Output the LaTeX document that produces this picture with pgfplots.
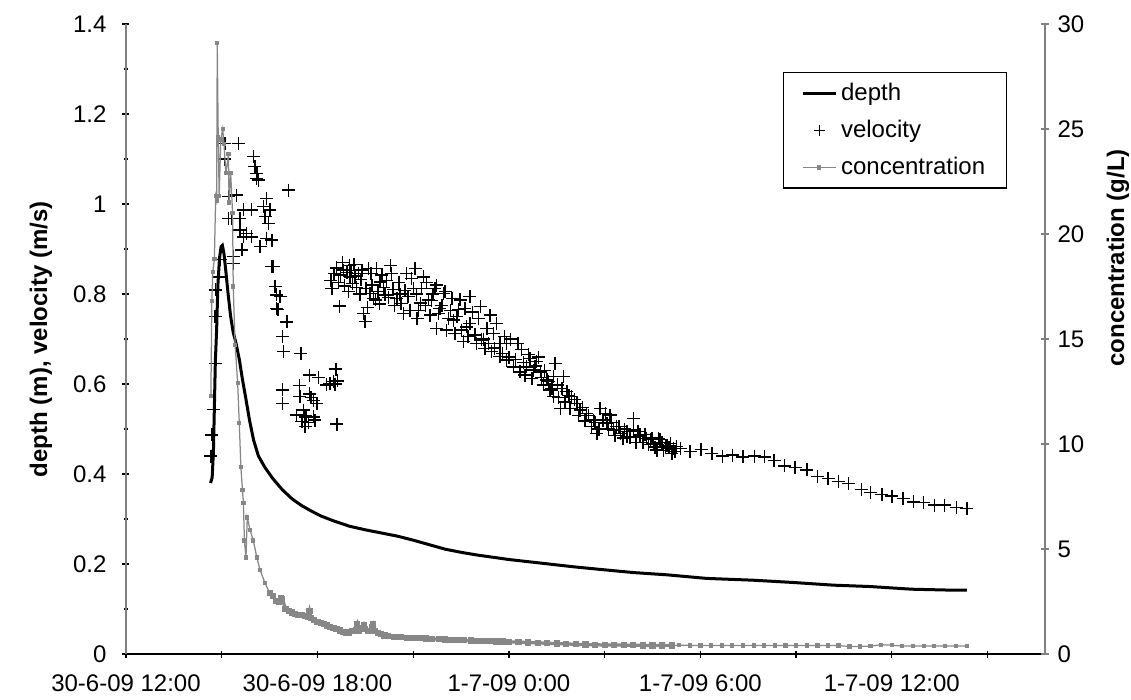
\documentclass[border=0pt]{standalone}
\usepackage{fontspec}
\setmainfont{Liberation Sans}
\usepackage{pgfplots}
\pgfplotsset{compat=1.18}
\definecolor{concgray}{RGB}{135,135,135}
\definecolor{axgray}{RGB}{128,128,128}

\pgfplotsset{
  hydro/.style={
    scale only axis, width=367.6pt, height=252pt,
    xmin=0, xmax=28.8,
    tick align=outside,
    /pgf/number format/assume math mode=true,
    tick label style={font=\fontsize{9.6}{11.5}\selectfont, black},
  },
}

\begin{document}
\fontsize{9.6}{11.5}\selectfont
\begin{tikzpicture}
% left axis: depth and velocity
\begin{axis}[hydro, name=main,
  ymin=0, ymax=1.4,
  axis x line=bottom, axis y line=left,
  axis line style={-},
  x axis line style={-, black, line width=0.5pt},
  y axis line style={-, axgray, line width=0.5pt},
  xtick={0,3,...,27},
  xticklabels={{30-6-09 12:00},{},{30-6-09 18:00},{},{1-7-09 0:00},{},{1-7-09 6:00},{},{1-7-09 12:00},{}},
  xticklabel style={yshift=-3.3pt},
  yticklabel style={xshift=-3pt},
  ytick={0,0.2,...,1.4},
  minor y tick num=1,
  major tick length=2.8pt, minor tick length=1.6pt,
  tick style={black, line width=0.5pt},
  ylabel={depth (m), velocity (m/s)},
  ylabel style={at={(axis description cs:-0.0925,0.5)}, anchor=center, font=\bfseries\fontsize{9.6}{11.5}\selectfont},
]
\addplot[black, line width=1.2pt] table {
x y
2.65 0.380
2.70 0.392
2.74 0.45
2.77 0.55
2.80 0.65
2.84 0.72
2.88 0.82
2.93 0.88
2.98 0.905
3.02 0.908
3.07 0.89
3.13 0.85
3.20 0.80
3.28 0.75
3.36 0.715
3.45 0.69
3.55 0.655
3.65 0.61
3.75 0.57
3.87 0.52
4.00 0.475
4.15 0.44
4.35 0.415
4.60 0.39
4.90 0.365
5.20 0.345
5.50 0.330
5.80 0.318
6.10 0.307
6.50 0.296
7.00 0.284
7.50 0.276
8.00 0.269
8.50 0.262
9.00 0.253
9.50 0.243
10.00 0.233
10.50 0.226
11.00 0.220
11.50 0.215
12.00 0.210
12.50 0.206
13.00 0.202
13.50 0.198
14.00 0.194
14.86 0.188
15.90 0.181
16.95 0.176
18.20 0.168
19.66 0.164
20.90 0.159
22.17 0.153
23.30 0.150
24.63 0.144
25.83 0.142
26.35 0.142
};
\addplot[only marks, mark=+, mark size=2.6pt, black, line width=0.55pt] table {
x y
2.66 0.440
2.69 0.487
2.74 0.544
2.79 0.646
2.79 0.750
2.80 0.809
2.89 0.838
2.95 0.876
3.10 1.135
3.08 1.100
3.21 1.016
3.21 0.968
3.31 0.968
3.36 0.883
3.36 0.868
3.47 1.020
3.52 1.135
3.57 0.968
3.57 0.942
3.63 0.898
3.68 0.987
3.68 0.927
3.78 0.935
3.94 0.987
3.94 0.927
3.99 1.105
4.04 1.083
4.08 1.057
4.10 1.068
4.15 1.053
4.20 0.905
4.30 0.994
4.36 0.972
4.41 1.012
4.41 0.924
4.46 0.957
4.51 0.987
4.57 0.920
4.57 0.861
4.61 0.861
4.67 0.816
4.72 0.798
4.72 0.768
4.76 0.766
4.83 0.794
4.90 0.587
4.90 0.557
4.91 0.706
4.93 0.672
5.04 0.738
5.09 1.031
5.35 0.531
5.43 0.596
5.45 0.572
5.48 0.668
5.51 0.516
5.56 0.542
5.61 0.527
5.61 0.505
5.64 0.530
5.72 0.514
5.75 0.620
5.75 0.578
5.80 0.570
5.87 0.564
5.87 0.527
5.92 0.520
5.98 0.556
6.03 0.615
6.29 0.598
6.39 0.601
6.50 0.605
6.55 0.600
6.58 0.633
6.62 0.607
6.61 0.511
6.42 0.830
6.45 0.812
6.52 0.845
6.60 0.858
6.66 0.826
6.69 0.773
6.72 0.842
6.78 0.870
6.81 0.853
6.85 0.818
6.92 0.848
6.97 0.805
7.00 0.864
7.02 0.838
7.05 0.852
7.10 0.823
7.15 0.866
7.18 0.840
7.22 0.815
7.28 0.845
7.33 0.800
7.36 0.832
7.39 0.853
7.44 0.757
7.49 0.739
7.52 0.812
7.56 0.770
7.60 0.857
7.65 0.801
7.68 0.845
7.71 0.820
7.75 0.790
7.81 0.787
7.86 0.857
7.90 0.805
7.94 0.778
7.96 0.827
8.02 0.842
8.06 0.815
8.12 0.798
8.16 0.830
8.22 0.792
8.28 0.864
8.33 0.845
8.37 0.810
8.42 0.775
8.49 0.790
8.55 0.826
8.59 0.800
8.62 0.779
8.69 0.757
8.74 0.808
8.80 0.846
8.84 0.794
8.90 0.764
8.95 0.835
9.01 0.812
9.06 0.857
9.10 0.800
9.12 0.746
9.16 0.764
9.22 0.780
9.27 0.812
9.32 0.838
9.38 0.775
9.42 0.825
9.48 0.787
9.53 0.753
9.57 0.786
9.62 0.800
9.68 0.812
9.74 0.820
9.74 0.724
9.79 0.757
9.84 0.768
9.90 0.775
9.95 0.801
10.00 0.805
10.05 0.720
10.10 0.745
10.16 0.764
10.22 0.790
10.27 0.742
10.31 0.712
10.37 0.750
10.42 0.765
10.47 0.787
10.52 0.720
10.57 0.694
10.62 0.768
10.68 0.727
10.72 0.705
10.78 0.794
10.78 0.735
10.86 0.760
10.94 0.709
10.98 0.690
11.05 0.745
11.10 0.772
11.15 0.698
11.20 0.700
11.25 0.679
11.31 0.724
11.36 0.690
11.41 0.753
11.46 0.672
11.51 0.712
11.55 0.680
11.62 0.735
11.72 0.690
11.72 0.661
11.80 0.668
11.86 0.705
11.93 0.690
11.93 0.653
12.00 0.660
12.05 0.700
12.14 0.638
12.20 0.655
12.28 0.690
12.35 0.627
12.40 0.676
12.45 0.648
12.50 0.620
12.56 0.638
12.62 0.665
12.66 0.657
12.72 0.612
12.77 0.631
12.82 0.640
12.87 0.650
12.92 0.660
12.98 0.627
13.02 0.615
13.08 0.598
13.12 0.630
13.19 0.609
13.25 0.605
13.29 0.587
13.35 0.590
13.40 0.616
13.40 0.572
13.45 0.646
13.52 0.598
13.56 0.570
13.61 0.546
13.66 0.590
13.71 0.616
13.76 0.560
13.82 0.583
13.88 0.575
13.92 0.545
13.97 0.572
14.05 0.565
14.13 0.557
14.18 0.530
14.23 0.542
14.30 0.548
14.38 0.518
14.44 0.535
14.50 0.530
14.58 0.505
14.65 0.520
14.70 0.515
14.76 0.490
14.82 0.500
14.86 0.546
14.95 0.520
15.02 0.535
15.07 0.513
15.12 0.500
15.17 0.531
15.22 0.515
15.28 0.498
15.33 0.485
15.38 0.505
15.45 0.505
15.49 0.490
15.58 0.480
15.62 0.500
15.70 0.494
15.70 0.483
15.80 0.482
15.90 0.524
15.90 0.498
15.98 0.470
16.05 0.495
16.11 0.487
16.11 0.483
16.20 0.470
16.27 0.488
16.32 0.479
16.38 0.465
16.43 0.476
16.48 0.480
16.53 0.468
16.58 0.460
16.64 0.453
16.69 0.479
16.74 0.476
16.80 0.470
16.85 0.452
16.90 0.461
16.95 0.464
17.02 0.458
17.06 0.468
17.11 0.446
17.16 0.457
17.20 0.450
17.26 0.461
17.37 0.457
17.68 0.450
18.02 0.455
18.36 0.446
18.69 0.440
19.01 0.442
19.33 0.438
19.69 0.440
20.00 0.438
20.31 0.430
20.64 0.418
20.97 0.415
21.34 0.409
21.67 0.394
22.00 0.390
22.33 0.384
22.64 0.379
23.04 0.366
23.34 0.359
23.69 0.355
24.00 0.351
24.35 0.346
24.68 0.338
24.99 0.336
25.33 0.331
25.65 0.331
26.02 0.326
26.35 0.324
};
\end{axis}

% right axis: concentration
\begin{axis}[hydro,
  ymin=0, ymax=30,
  axis x line=none, axis y line=right,
  axis line style={-},
  y axis line style={-, axgray, line width=0.5pt},
  ytick={0,5,...,30},
  major tick length=3.2pt,
  tick style={axgray, line width=0.5pt},
  ylabel={concentration (g/L)},
  ylabel style={at={(axis description cs:1.0794,0.6286)}, anchor=center, font=\bfseries\fontsize{9.6}{11.5}\selectfont},
  legend cell align=left,
  legend image code/.code={\draw[mark repeat=2,mark phase=2,#1] plot coordinates {(0pt,0pt) (6.6pt,0pt) (13.2pt,0pt)};},
  legend style={at={(0.9587,0.9238)}, anchor=north east, draw=black, line width=0.5pt,
    font=\fontsize{9.6}{11.5}\selectfont, inner xsep=7pt, inner ysep=2.5pt, row sep=3.5pt,
    nodes={inner sep=1.5pt}},
]
\addlegendimage{black, line width=1.2pt}
\addlegendentry{depth}
\addlegendimage{only marks, mark=+, mark size=2.3pt, black, line width=0.5pt}
\addlegendentry{velocity}
\addlegendimage{concgray, line width=0.5pt, mark=square*, mark size=0.6pt}
\addlegendentry{concentration}
\addplot[forget plot, concgray, line width=0.5pt, mark=square*, mark size=0.6pt] table {
x y
2.66 12.3
2.69 16.8
2.72 18.2
2.77 18.8
2.81 21.8
2.84 21.6
2.86 29.1
2.89 24.6
2.92 21.8
2.97 24.5
3.03 25.0
3.07 24.3
3.13 22.9
3.21 23.8
3.23 21.5
3.28 22.9
3.34 21.0
3.36 17.5
3.42 14.7
3.50 12.9
3.55 11.0
3.60 8.9
3.65 7.8
3.68 7.2
3.71 5.4
3.76 4.6
3.80 6.5
3.89 5.9
3.99 5.4
4.10 4.6
4.20 4.0
4.36 3.37
4.51 2.89
};
\addplot[forget plot, concgray, line width=1.3pt, mark=square*, mark size=0.6pt] table {
x y
4.51 2.89
4.60 2.75
4.70 2.52
4.80 2.50
4.85 2.68
4.90 2.60
5.00 2.15
5.10 2.05
5.20 1.98
5.30 1.90
5.40 1.86
5.50 1.84
5.60 1.80
5.70 1.76
5.75 2.05
5.80 1.72
5.90 1.62
6.00 1.52
6.10 1.46
6.20 1.42
6.30 1.36
6.40 1.30
6.50 1.24
6.60 1.20
6.70 1.12
6.80 1.06
6.90 0.99
7.00 1.02
7.10 1.08
7.20 1.15
7.25 1.40
7.30 1.12
7.40 1.22
7.45 1.38
7.50 1.20
7.60 1.10
7.70 1.26
7.75 1.40
7.80 1.10
7.90 1.00
8.00 0.94
8.10 0.88
8.20 0.84
8.40 0.82
8.60 0.80
8.80 0.78
9.00 0.76
9.20 0.75
9.40 0.74
9.60 0.72
9.80 0.70
10.00 0.69
10.20 0.67
10.40 0.66
10.60 0.65
10.80 0.64
11.00 0.63
11.20 0.62
11.40 0.61
11.60 0.60
11.80 0.59
12.00 0.58
12.30 0.56
12.60 0.55
12.90 0.53
13.20 0.51
13.50 0.50
13.80 0.48
14.10 0.46
14.40 0.45
14.70 0.44
15.00 0.43
15.30 0.43
15.60 0.42
15.90 0.42
16.20 0.41
16.50 0.41
16.80 0.41
17.10 0.40
};
\addplot[forget plot, concgray, line width=0.5pt, mark=square*, mark size=0.6pt] table {
x y
17.10 0.40
17.33 0.42
17.67 0.41
18.00 0.40
18.33 0.40
18.67 0.40
19.00 0.40
19.33 0.40
19.67 0.40
20.00 0.40
20.33 0.40
20.67 0.40
21.00 0.40
21.33 0.40
21.67 0.40
22.00 0.40
22.33 0.40
22.67 0.36
23.00 0.36
23.33 0.38
23.67 0.44
24.00 0.42
24.33 0.38
24.67 0.38
25.00 0.38
25.33 0.38
25.67 0.38
26.00 0.38
26.35 0.38
};
\end{axis}
\pgfresetboundingbox
\path[use as bounding box] ([xshift=-50.4pt,yshift=-18pt]main.south west) rectangle ([xshift=402pt,yshift=261.6pt]main.south west);
\end{tikzpicture}
\end{document}
